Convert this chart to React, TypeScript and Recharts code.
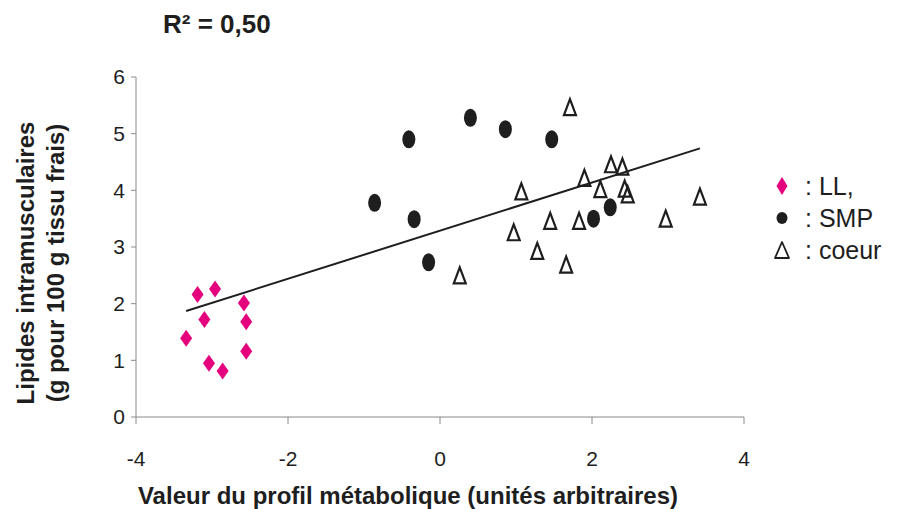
import { ScatterChart, Scatter, XAxis, YAxis, Legend } from "recharts";

// LL (diamonds)
const llX = [-3.34, -3.19, -2.96, -3.1, -3.04, -2.86, -2.58, -2.55, -2.55];
const llY = [1.39, 2.16, 2.26, 1.72, 0.95, 0.81, 2.01, 1.68, 1.16];
// SMP (filled dots)
const smpX = [-0.86, -0.41, -0.34, -0.15, 0.4, 0.86, 1.47, 2.02, 2.24];
const smpY = [3.78, 4.9, 3.49, 2.73, 5.28, 5.08, 4.9, 3.5, 3.7];
// coeur (open triangles)
const coeurX = [1.71, 0.26, 1.07, 0.97, 1.45, 1.28, 1.66, 1.83, 1.9, 2.11, 2.25, 2.4, 2.43, 2.47, 2.97, 3.42];
const coeurY = [5.47, 2.5, 3.98, 3.26, 3.46, 2.93, 2.69, 3.46, 4.22, 4.02, 4.46, 4.42, 4.03, 3.93, 3.5, 3.89];
// regression line ends
const fitX = [-3.34, 3.42];
const fitY = [1.87, 4.74];

const xTicks = [-4, -2, 0, 2, 4];
const yTicks = [0, 1, 2, 3, 4, 5, 6];
const seriesNames = ["LL,", "SMP", "coeur"];

const PINK = "#e5007e";
const INK = "#1e1e1e";
const AXIS = "#8a8a8a";
const FONT = "'Liberation Sans', Arial, sans-serif";

const zip = (xs: number[], ys: number[]) => xs.map((x, i) => ({ x, y: ys[i] }));
const llData = zip(llX, llY);
const smpData = zip(smpX, smpY);
const coeurData = zip(coeurX, coeurY);
const fitData = zip(fitX, fitY);

const Diamond = (p: any) => (
  <path
    d={`M${p.cx},${p.cy - 8.5} L${p.cx + 6},${p.cy} L${p.cx},${p.cy + 8.5} L${p.cx - 6},${p.cy} Z`}
    fill={PINK}
  />
);
const Dot = (p: any) => <ellipse cx={p.cx} cy={p.cy} rx={6.5} ry={9} fill={INK} />;
const Tri = (p: any) => (
  <path
    d={`M${p.cx},${p.cy - 8} L${p.cx + 6},${p.cy + 8} L${p.cx - 6},${p.cy + 8} Z`}
    fill="none"
    stroke={INK}
    strokeWidth={2.2}
  />
);
const NoDot = () => <g />;

const legendIcons = [
  <path d="M10,7 L15.5,16 L10,25 L4.5,16 Z" fill={PINK} />,
  <ellipse cx={10} cy={16} rx={5.5} ry={6} fill={INK} />,
  <path d="M10,8 L17,24 L3,24 Z" fill="none" stroke={INK} strokeWidth={1.8} strokeLinejoin="round" />,
];

const renderLegend = () => (
  <div style={{ fontFamily: FONT, fontSize: 25, color: INK }}>
    {seriesNames.map((n, i) => (
      <div key={n} style={{ display: "flex", alignItems: "center", height: 32 }}>
        <svg width={20} height={32}>{legendIcons[i]}</svg>
        <span style={{ marginLeft: 13 }}>: {n}</span>
      </div>
    ))}
  </div>
);

const renderXLabel = (props: any) => {
  const vb = props.viewBox;
  return (
    <text x={vb.x + vb.width / 2 - 32} y={vb.y + 87} textAnchor="middle" fontFamily={FONT} fontWeight="bold" fontSize={24} fill={INK}>
      Valeur du profil métabolique (unités arbitraires)
    </text>
  );
};

const renderYLabel = () => (
  <g fontFamily={FONT} fontWeight="bold" fontSize={24} fill={INK}>
    <text x={17} y={255} transform="rotate(-90, 17, 255)" textAnchor="middle" dominantBaseline="central">
      Lipides intramusculaires
    </text>
    <text x={47} y={255} transform="rotate(-90, 47, 255)" textAnchor="middle" dominantBaseline="central">
      (g pour 100 g tissu frais)
    </text>
  </g>
);

export default function App() {
  return (
    <div style={{ position: "relative", width: 883, height: 501 }}>
      <div
        style={{
          position: "absolute",
          left: 155,
          top: 3,
          fontFamily: FONT,
          fontWeight: "bold",
          fontSize: 26,
          lineHeight: "26px",
          color: INK,
          zIndex: 1,
        }}
      >
        R² = 0,50
      </div>
      <ScatterChart width={883} height={501} margin={{ top: 69, right: 147, bottom: 0, left: 0 }}>
        <XAxis
          type="number"
          dataKey="x"
          domain={[-4, 4]}
          ticks={xTicks}
          height={92}
          stroke={AXIS}
          tickSize={7}
          tickMargin={27}
          tick={{ fill: INK, fontSize: 21, fontFamily: FONT }}
          label={renderXLabel}
        />
        <YAxis
          type="number"
          dataKey="y"
          domain={[0, 6]}
          ticks={yTicks}
          width={128}
          stroke={AXIS}
          tickSize={5}
          tickMargin={6}
          tick={{ fill: INK, fontSize: 21, fontFamily: FONT }}
          label={renderYLabel}
        />
        <Legend
          layout="vertical"
          align="center"
          verticalAlign="middle"
          content={renderLegend}
          wrapperStyle={{ left: 764, top: 162, width: 140 }}
        />
        <Scatter
          data={fitData}
          line={{ stroke: INK, strokeWidth: 2 }}
          shape={NoDot}
          legendType="none"
          isAnimationActive={false}
        />
        <Scatter name={seriesNames[0]} data={llData} shape={Diamond} isAnimationActive={false} />
        <Scatter name={seriesNames[1]} data={smpData} shape={Dot} isAnimationActive={false} />
        <Scatter name={seriesNames[2]} data={coeurData} shape={Tri} isAnimationActive={false} />
      </ScatterChart>
    </div>
  );
}
